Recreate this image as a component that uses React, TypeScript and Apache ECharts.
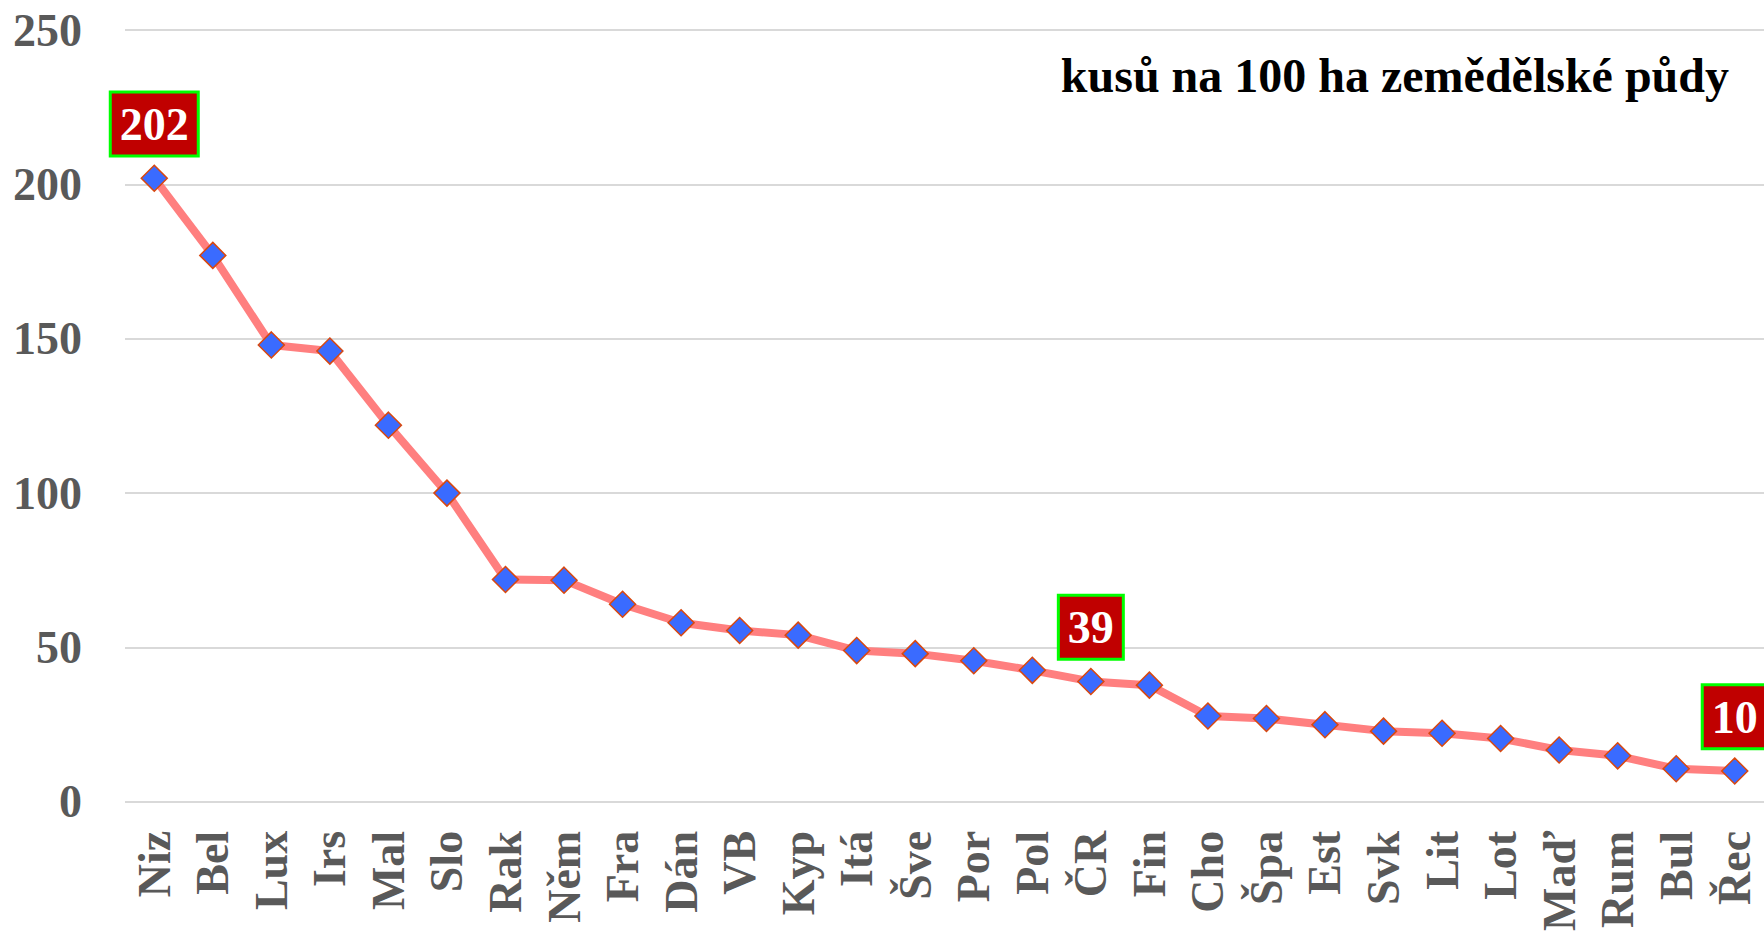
import React, { useEffect, useRef } from "react";
import * as echarts from "echarts";

const categories = [
  "Niz", "Bel", "Lux", "Irs", "Mal", "Slo", "Rak", "Něm", "Fra", "Dán",
  "VB", "Kyp", "Itá", "Šve", "Por", "Pol", "ČR", "Fin", "Cho", "Špa",
  "Est", "Svk", "Lit", "Lot", "Maď", "Rum", "Bul", "Řec",
];
const values = [
  202, 177, 148, 146, 122, 100, 72, 71.8, 64, 58,
  55.5, 54, 49, 48, 45.7, 42.6, 39, 37.8, 27.8, 27,
  25, 22.9, 22.2, 20.5, 16.8, 14.9, 10.7, 10,
];
const labelledCategories = ["Niz", "ČR", "Řec"];
const yTicks = { min: 0, max: 250, interval: 50 };
const subtitle = "kusů na 100 ha zemědělské půdy";

const FONT = "'Liberation Serif', 'Times New Roman', serif";

export default function App() {
  const ref = useRef<HTMLDivElement>(null);
  useEffect(() => {
    if (!ref.current) return;
    const chart = echarts.init(ref.current, undefined, { renderer: "svg" });
    const data = values.map((v, i) => {
      const show = labelledCategories.includes(categories[i]);
      return show
        ? {
            value: v,
            label: {
              show: true,
              position: "top",
              distance: 10,
              formatter: "{c}",
              color: "#ffffff",
              fontFamily: FONT,
              fontWeight: "bold",
              fontSize: 46,
              lineHeight: 52,
              backgroundColor: "#C00000",
              borderColor: "#00FF00",
              borderWidth: 3,
              padding: [5, 8, 4, 8],
            },
          }
        : { value: v };
    });
    chart.setOption({
      animation: false,
      backgroundColor: "#ffffff",
      title: {
        text: subtitle,
        right: 30,
        top: 46,
        textStyle: {
          fontFamily: FONT,
          fontWeight: "bold",
          fontSize: 48,
          color: "#000000",
        },
      },
      grid: { left: 125, top: 30, width: 1650, height: 775.5, containLabel: false },
      xAxis: {
        type: "category",
        data: categories,
        boundaryGap: true,
        axisLine: { show: false },
        axisTick: { show: false },
        axisLabel: {
          rotate: 90,
          interval: 0,
          margin: 29,
          fontFamily: FONT,
          fontWeight: "bold",
          fontSize: 46,
          color: "#595959",
        },
      },
      yAxis: {
        type: "value",
        min: yTicks.min,
        max: yTicks.max,
        interval: yTicks.interval,
        axisLine: { show: false },
        axisTick: { show: false },
        splitLine: { lineStyle: { color: "#D9D9D9", width: 2 } },
        axisLabel: {
          margin: 43,
          fontFamily: FONT,
          fontWeight: "bold",
          fontSize: 46,
          color: "#595959",
        },
      },
      series: [
        {
          type: "line",
          data,
          symbol: "diamond",
          symbolSize: 26,
          lineStyle: { color: "#FF7F7F", width: 8 },
          itemStyle: { color: "#3A6BFF", borderColor: "#D9480F", borderWidth: 1.5 },
          label: { show: false },
        },
      ],
    });
    return () => chart.dispose();
  }, []);
  return (
    <div
      ref={ref}
      style={{ position: "fixed", left: 0, top: 0, width: 1764, height: 934 }}
    />
  );
}
